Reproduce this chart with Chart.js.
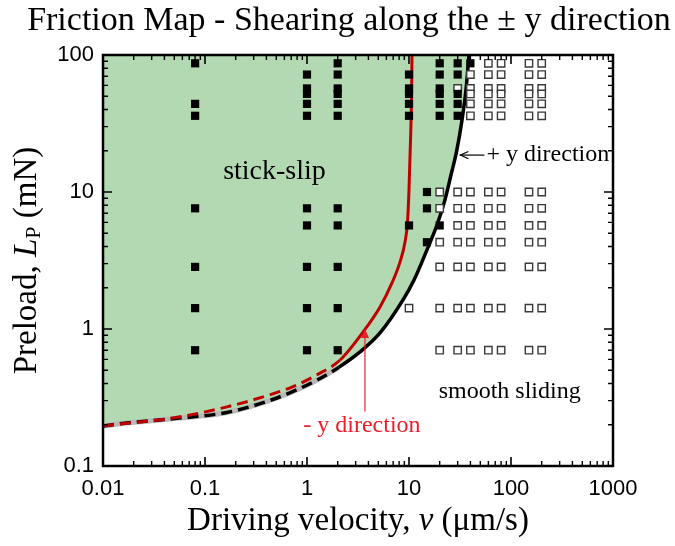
<!DOCTYPE html>
<html>
<head>
<meta charset="utf-8">
<script src="https://cdn.jsdelivr.net/npm/chart.js@4.4.1/dist/chart.umd.min.js"></script>
<style>
  html, body { margin: 0; padding: 0; background: #fff; }
  #wrap { width: 675px; height: 546px; }
</style>
</head>
<body>
<div id="wrap"><canvas id="friction-map" width="675" height="546"></canvas></div>
<script>
// ── Friction map data: velocity v (µm/s) vs preload Lp (mN) ─────────────────

const xTicks = [0.01, 0.1, 1, 10, 100, 1000];
const yTicks = [0.1, 1, 10, 100];

// stick-slip runs (filled squares)
const slipV = [
  0.08, 0.08, 0.08, 0.08, 0.08, 0.08, 0.08,
  1, 1, 1, 1, 1, 1, 1, 1, 1, 1,
  2, 2, 2, 2, 2, 2, 2, 2, 2, 2, 2,
  10, 10, 10, 10, 10, 10,
  15, 15, 15,
  20, 20, 20, 20, 20, 20, 20,
  30, 30, 30, 30, 30,
  40
];
const slipL = [
  87, 44, 36, 7.6, 2.84, 1.42, 0.7,
  72, 57, 52, 44, 36, 7.6, 5.7, 2.84, 1.42, 0.7,
  87, 72, 57, 52, 44, 36, 7.6, 5.7, 2.84, 1.42, 0.7,
  72, 57, 52, 44, 36, 5.7,
  10, 7.6, 4.3,
  87, 72, 57, 52, 44, 36, 5.7,
  87, 72, 52, 44, 36,
  87
];

// smooth sliding runs (open squares)
const smoothV = [
  60, 80, 150, 200,
  40, 60, 80, 150, 200,
  30, 40, 60, 80, 150, 200,
  40, 60, 80, 150, 200,
  40, 60, 80, 150, 200,
  40, 60, 80, 150, 200,
  20, 30, 40, 60, 80, 150, 200,
  20, 30, 40, 60, 80, 150, 200,
  30, 40, 60, 80, 150, 200,
  20, 30, 40, 60, 80, 150, 200,
  20, 30, 40, 60, 80, 150, 200,
  10, 20, 30, 40, 60, 80, 150, 200,
  20, 30, 40, 60, 80, 150, 200
];
const smoothL = [
  87, 87, 87, 87,
  72, 72, 72, 72, 72,
  57, 57, 57, 57, 57, 57,
  52, 52, 52, 52, 52,
  44, 44, 44, 44, 44,
  36, 36, 36, 36, 36,
  10, 10, 10, 10, 10, 10, 10,
  7.6, 7.6, 7.6, 7.6, 7.6, 7.6, 7.6,
  5.7, 5.7, 5.7, 5.7, 5.7, 5.7,
  4.3, 4.3, 4.3, 4.3, 4.3, 4.3, 4.3,
  2.84, 2.84, 2.84, 2.84, 2.84, 2.84, 2.84,
  1.42, 1.42, 1.42, 1.42, 1.42, 1.42, 1.42, 1.42,
  0.7, 0.7, 0.7, 0.7, 0.7, 0.7, 0.7
];

// boundary for shearing along +y
const plusV = [0.01, 0.0172, 0.05, 0.164, 0.4, 0.73, 1.3, 2.05, 3.31, 5.2, 8.73, 11.2, 15.0, 18.8, 22.5, 25.8, 29.2, 33.1, 36.2, 38.7];
const plusL = [0.196, 0.206, 0.222, 0.246, 0.295, 0.35, 0.43, 0.525, 0.68, 0.936, 1.63, 2.28, 3.78, 5.74, 8.75, 13.3, 19.6, 33.6, 55.6, 100];

// boundary for shearing along -y
const minusV = [0.01, 0.0172, 0.05, 0.164, 0.4, 0.73, 1.3, 2.11, 3.54, 5.2, 6.81, 8.16, 9.14, 9.67, 10.0, 10.35, 10.58, 10.7];
const minusL = [0.197, 0.205, 0.225, 0.27, 0.325, 0.38, 0.47, 0.594, 0.95, 1.45, 2.17, 3.08, 4.32, 6.04, 10.4, 24, 47, 100];

// below this velocity the boundaries are extrapolated (dashed)
const dashBelow = 2;

const SERIF = '"Liberation Serif", "Times New Roman", serif';
const SANS = '"Liberation Sans", Arial, sans-serif';

const pts = (xs, ys) => xs.map((v, i) => ({ x: v, y: ys[i] }));
const dashed = [11, 6];
const dashSeg = ctx => ctx.p0.parsed.x < dashBelow ? dashed : undefined;

// ── Frame, inward ticks, titles and labels ───────────────────────────────────

function drawArrowHead(ctx, x, y, angle, size, filled) {
  ctx.save();
  ctx.translate(x, y);
  ctx.rotate(angle);
  ctx.beginPath();
  ctx.moveTo(size, -size * 0.45);
  ctx.lineTo(0, 0);
  ctx.lineTo(size, size * 0.45);
  if (filled) { ctx.closePath(); ctx.fill(); } else ctx.stroke();
  ctx.restore();
}

// draws runs of text with their own fonts, starting at x
function drawRuns(ctx, runs, x, y) {
  let cx = x;
  runs.forEach(r => {
    ctx.font = r.font;
    ctx.fillText(r.text, cx, y + (r.dy || 0));
    cx += ctx.measureText(r.text).width;
  });
  return cx - x;
}
function runsWidth(ctx, runs) {
  let w = 0;
  runs.forEach(r => { ctx.font = r.font; w += ctx.measureText(r.text).width; });
  return w;
}

const framePlugin = {
  id: 'frame',
  afterDatasetsDraw(chart) {
    const { ctx, chartArea: a, scales: { x, y } } = chart;
    ctx.save();
    ctx.strokeStyle = '#000';
    ctx.lineCap = 'butt';

    // minor ticks
    ctx.lineWidth = 1.4;
    ctx.beginPath();
    xTicks.slice(0, -1).forEach(d => {
      for (let m = 2; m <= 9; m++) {
        const px = x.getPixelForValue(d * m);
        ctx.moveTo(px, a.bottom); ctx.lineTo(px, a.bottom - 5);
        ctx.moveTo(px, a.top); ctx.lineTo(px, a.top + 5);
      }
    });
    yTicks.slice(0, -1).forEach(d => {
      for (let m = 2; m <= 9; m++) {
        const py = y.getPixelForValue(d * m);
        ctx.moveTo(a.left, py); ctx.lineTo(a.left + 5, py);
        ctx.moveTo(a.right, py); ctx.lineTo(a.right - 5, py);
      }
    });
    ctx.stroke();

    // major ticks
    ctx.lineWidth = 1.6;
    ctx.beginPath();
    xTicks.forEach(v => {
      const px = x.getPixelForValue(v);
      ctx.moveTo(px, a.bottom); ctx.lineTo(px, a.bottom - 9);
      ctx.moveTo(px, a.top); ctx.lineTo(px, a.top + 9);
    });
    yTicks.forEach(v => {
      const py = y.getPixelForValue(v);
      ctx.moveTo(a.left, py); ctx.lineTo(a.left + 9, py);
      ctx.moveTo(a.right, py); ctx.lineTo(a.right - 9, py);
    });
    ctx.stroke();

    ctx.lineWidth = 2.5;
    ctx.strokeRect(a.left, a.top, a.right - a.left, a.bottom - a.top);
    ctx.restore();
  },
  afterDraw(chart) {
    const { ctx, chartArea: a, scales: { x, y } } = chart;
    ctx.save();
    ctx.fillStyle = '#000';
    ctx.textBaseline = 'middle';

    // chart title
    ctx.textAlign = 'center';
    ctx.font = `34px ${SERIF}`;
    ctx.fillText('Friction Map - Shearing along the \u00b1 y direction', 349, 21);

    // x axis title
    ctx.textAlign = 'left';
    const xRuns = [
      { text: 'Driving velocity, ', font: `33px ${SERIF}` },
      { text: 'v', font: `italic 33px ${SERIF}` },
      { text: ' (\u03bcm/s)', font: `33px ${SERIF}` }
    ];
    drawRuns(ctx, xRuns, (a.left + a.right) / 2 - runsWidth(ctx, xRuns) / 2, 521);

    // y axis title
    const yRuns = [
      { text: 'Preload, ', font: `33px ${SERIF}` },
      { text: 'L', font: `italic 33px ${SERIF}` },
      { text: 'P', font: `22px ${SERIF}`, dy: 7 },
      { text: ' (mN)', font: `33px ${SERIF}` }
    ];
    ctx.save();
    ctx.translate(27, (a.top + a.bottom) / 2);
    ctx.rotate(-Math.PI / 2);
    drawRuns(ctx, yRuns, -runsWidth(ctx, yRuns) / 2, 0);
    ctx.restore();

    // regime labels
    ctx.textAlign = 'center';
    ctx.font = `28px ${SERIF}`;
    ctx.fillText('stick-slip', x.getPixelForValue(0.48), y.getPixelForValue(14));
    ctx.font = `24px ${SERIF}`;
    ctx.fillText('smooth sliding', x.getPixelForValue(97), y.getPixelForValue(0.35));

    // +y boundary label with arrow
    const tipX = x.getPixelForValue(30.5), tipY = y.getPixelForValue(18.6);
    ctx.strokeStyle = '#000';
    ctx.lineWidth = 1.2;
    ctx.beginPath();
    ctx.moveTo(tipX + 2, tipY); ctx.lineTo(tipX + 26, tipY);
    ctx.stroke();
    drawArrowHead(ctx, tipX + 2, tipY, 0, 8, false);
    ctx.textAlign = 'left';
    ctx.font = `24px ${SERIF}`;
    ctx.fillText('+ y direction', tipX + 28, tipY);

    // -y boundary label with arrow
    ctx.strokeStyle = '#e8202a';
    ctx.fillStyle = '#e8202a';
    const ax = x.getPixelForValue(3.7);
    const aTop = y.getPixelForValue(1.0), aBot = y.getPixelForValue(0.25);
    ctx.lineWidth = 1.2;
    ctx.beginPath();
    ctx.moveTo(ax, aBot); ctx.lineTo(ax, aTop + 4);
    ctx.stroke();
    drawArrowHead(ctx, ax, aTop, Math.PI / 2, 9, true);
    ctx.textAlign = 'center';
    ctx.font = `24px ${SERIF}`;
    ctx.fillText('- y direction', ax - 3, aBot + 14);

    ctx.restore();
  }
};

// ── Chart ────────────────────────────────────────────────────────────────────

new Chart(document.getElementById('friction-map').getContext('2d'), {
  type: 'line',
  data: {
    datasets: [
      { // stick-slip region, shaded up to the top edge
        data: pts(plusV, plusL), borderWidth: 0, pointRadius: 0,
        cubicInterpolationMode: 'monotone',
        fill: 'end', backgroundColor: 'rgb(178,217,178)', order: 6
      },
      { // grey underlay for the dashed parts
        data: pts(plusV, plusL).filter(p => p.x <= dashBelow + 0.1), borderColor: '#b8b8b8',
        borderWidth: 5, pointRadius: 0, fill: false, cubicInterpolationMode: 'monotone', order: 5
      },
      {
        label: '+y', data: pts(plusV, plusL), borderColor: '#000', borderWidth: 3.5,
        pointRadius: 0, fill: false, cubicInterpolationMode: 'monotone',
        segment: { borderDash: dashSeg }, order: 3
      },
      {
        label: '-y', data: pts(minusV, minusL), borderColor: '#c00000', borderWidth: 3,
        pointRadius: 0, fill: false, cubicInterpolationMode: 'monotone',
        segment: { borderDash: dashSeg }, order: 2
      },
      {
        label: 'smooth sliding', data: pts(smoothV, smoothL), showLine: false,
        pointStyle: 'rect', pointRadius: 5.2, borderColor: '#3a3a3a', borderWidth: 1.4,
        pointBackgroundColor: '#fff', order: 1
      },
      {
        label: 'stick-slip', data: pts(slipV, slipL), showLine: false,
        pointStyle: 'rect', pointRadius: 5.8, borderColor: '#000', borderWidth: 0,
        pointBackgroundColor: '#000', order: 0
      }
    ]
  },
  options: {
    responsive: false,
    devicePixelRatio: 1,
    animation: false,
    layout: { padding: { top: 55, right: 62, bottom: 0, left: 0 } },
    plugins: { legend: { display: false }, tooltip: { enabled: false }, title: { display: false } },
    scales: {
      x: {
        type: 'logarithmic', min: 0.01, max: 1000,
        grid: { display: false, drawTicks: false }, border: { display: false },
        afterBuildTicks: s => { s.ticks = xTicks.map(v => ({ value: v })); },
        afterFit: s => { s.height = 80; },
        ticks: {
          autoSkip: false, maxRotation: 0, padding: 10, color: '#000',
          font: { family: SANS, size: 22 }, callback: v => String(v)
        }
      },
      y: {
        type: 'logarithmic', min: 0.1, max: 100,
        grid: { display: false, drawTicks: false }, border: { display: false },
        afterBuildTicks: s => { s.ticks = yTicks.map(v => ({ value: v })); },
        afterFit: s => { s.width = 103; },
        ticks: {
          autoSkip: false, padding: 9, color: '#000',
          font: { family: SANS, size: 22 }, callback: v => String(v)
        }
      }
    }
  },
  plugins: [framePlugin]
});
</script>
</body>
</html>
